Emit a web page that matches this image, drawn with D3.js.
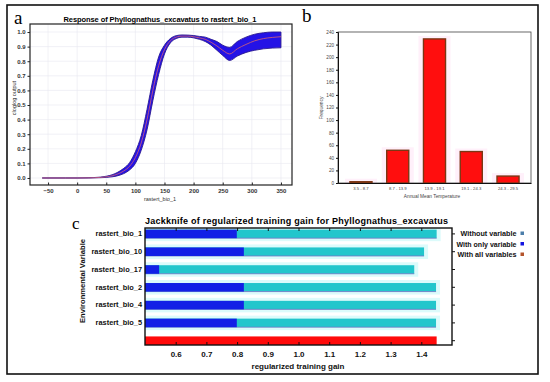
<!DOCTYPE html>
<html>
<head>
<meta charset="utf-8">
<script src="https://cdn.jsdelivr.net/npm/d3@7"></script>
<style>
  body { margin: 0; background: #fff; }
  svg { display: block; font-family: "Liberation Sans", Arial, sans-serif; }
</style>
</head>
<body>
<svg id="chart"></svg>
<script>
// panel a: response curve (mean and +/- band)
const respX    = [-60, -20, 0, 20, 40, 50, 60, 70, 80, 90, 100, 110, 120, 130, 140, 150, 160, 170, 180, 190, 200, 210, 220, 230, 240, 250, 262, 275, 290, 305, 320, 335, 350];
const respMean = [0, 0, 0, 0.001, 0.004, 0.008, 0.015, 0.028, 0.048, 0.08, 0.14, 0.24, 0.40, 0.60, 0.77, 0.88, 0.94, 0.965, 0.972, 0.972, 0.968, 0.96, 0.95, 0.93, 0.905, 0.875, 0.85, 0.885, 0.915, 0.94, 0.955, 0.963, 0.968];
const respLow  = [0, 0, 0, 0, 0.002, 0.004, 0.008, 0.016, 0.03, 0.055, 0.10, 0.19, 0.33, 0.53, 0.71, 0.85, 0.925, 0.955, 0.965, 0.965, 0.96, 0.95, 0.935, 0.91, 0.875, 0.84, 0.805, 0.835, 0.86, 0.875, 0.885, 0.89, 0.892];
const respHigh = [0, 0, 0, 0.002, 0.006, 0.012, 0.022, 0.04, 0.066, 0.105, 0.18, 0.29, 0.47, 0.67, 0.83, 0.91, 0.955, 0.975, 0.98, 0.979, 0.976, 0.97, 0.965, 0.95, 0.935, 0.91, 0.895, 0.935, 0.965, 0.985, 0.995, 1.0, 1.0];
const respXTicks = [-50, 0, 50, 100, 150, 200, 250, 300, 350];
const respYTicks = [0, 0.1, 0.2, 0.3, 0.4, 0.5, 0.6, 0.7, 0.8, 0.9, 1.0];

// panel b: histogram
const tempBins = ["3.5 - 8.7", "8.7 - 13.9", "13.9 - 19.1", "19.1 - 24.3", "24.3 - 29.5"];
const tempFreq = [2, 52, 229, 50, 11];
const freqTicks = [0, 20, 40, 60, 80, 100, 120, 140, 160, 180, 200, 220, 240];

// panel c: jackknife
const jackVars    = ["rastert_bio_1", "rastert_bio_10", "rastert_bio_17", "rastert_bio_2", "rastert_bio_4", "rastert_bio_5"];
const gainWithout = [1.45, 1.409, 1.377, 1.448, 1.448, 1.448];
const gainOnly    = [0.799, 0.822, 0.546, 0.822, 0.822, 0.799];
const gainAll     = 1.45;
const gainTicks   = [0.6, 0.7, 0.8, 0.9, 1.0, 1.1, 1.2, 1.3, 1.4];
const legendItems = ["Without variable", "With only variable", "With all variables"];
const legendColors = ["#4c7eaa", "#1414e0", "#b4542c"];

const width = 550, height = 382;
const svg = d3.select("#chart").attr("width", width).attr("height", height);

svg.append("rect").attr("x", 7).attr("y", 5).attr("width", 531).attr("height", 369)
  .attr("fill", "#fff").attr("stroke", "#111").attr("stroke-width", 1.6);

// ---------- panel a ----------
const ax = d3.scaleLinear().domain([-81, 369]).range([30, 292]);
const ay = d3.scaleLinear().domain([-0.048, 1.055]).range([185, 24]);
const ga = svg.append("g");

ga.selectAll(".gx").data(respXTicks).enter().append("line")
  .attr("x1", d => ax(d)).attr("x2", d => ax(d)).attr("y1", 24).attr("y2", 185)
  .attr("stroke", "#e8e8f0").attr("stroke-width", 0.6);
ga.selectAll(".gy").data(respYTicks).enter().append("line")
  .attr("x1", 30).attr("x2", 292).attr("y1", d => ay(d)).attr("y2", d => ay(d))
  .attr("stroke", "#e8e8f0").attr("stroke-width", 0.6);

const resp = respX.map((x, i) => ({ x, m: respMean[i], lo: respLow[i], hi: respHigh[i] }));

ga.append("path").datum(resp)
  .attr("d", d3.area().curve(d3.curveMonotoneX)
    .x(d => ax(d.x)).y0(d => ay(d.lo)).y1(d => ay(d.hi)))
  .attr("fill", "#2412e6").attr("stroke", "#2a1890").attr("stroke-width", 0.9);

ga.append("path").datum(resp)
  .attr("d", d3.line().curve(d3.curveMonotoneX).x(d => ax(d.x)).y(d => ay(d.m)))
  .attr("fill", "none").attr("stroke", "#c45a7e").attr("stroke-width", 0.9);

ga.append("rect").attr("x", 30).attr("y", 24).attr("width", 262).attr("height", 161)
  .attr("fill", "none").attr("stroke", "#222").attr("stroke-width", 1.2);

const aLeft = ga.append("g").attr("transform", "translate(30,0)")
  .call(d3.axisLeft(ay).tickValues(respYTicks).tickFormat(d3.format(".1f")).tickSize(2.5).tickPadding(2));
const aBottom = ga.append("g").attr("transform", "translate(0,185)")
  .call(d3.axisBottom(ax).tickValues(respXTicks).tickSize(-2.5).tickPadding(4));
[aLeft, aBottom].forEach(a => {
  a.select(".domain").remove();
  a.selectAll("text").attr("font-size", 6).attr("font-weight", "bold").attr("fill", "#333");
  a.selectAll("line").attr("stroke", "#222");
});

ga.append("text").attr("x", 160).attr("y", 22).attr("text-anchor", "middle")
  .attr("font-size", 7.5).attr("font-weight", "bold").attr("textLength", 193)
  .attr("lengthAdjust", "spacing")
  .text("Response of Phyllognathus_excavatus  to rastert_bio_1");
ga.append("text").attr("x", 160).attr("y", 201).attr("text-anchor", "middle")
  .attr("font-size", 5.5).attr("fill", "#333").text("rastert_bio_1");
ga.append("text").attr("transform", "translate(16,98) rotate(-90)").attr("text-anchor", "middle")
  .attr("font-size", 5.5).attr("fill", "#333").text("cloglog output");
ga.append("text").attr("x", 14).attr("y", 24).attr("font-family", "'Liberation Serif', serif")
  .attr("font-size", 19).text("a");

// ---------- panel b ----------
const bx = d3.scaleBand().domain(tempBins).range([338, 531]).paddingInner(0.4).paddingOuter(0.325);
const by = d3.scaleLinear().domain([0, 240]).range([183, 32]);
const gb = svg.append("g");

gb.selectAll(".halo").data(tempFreq).enter().append("rect")
  .attr("x", (d, i) => bx(tempBins[i]) - 5).attr("y", d => by(d) - 3)
  .attr("width", bx.bandwidth() + 10).attr("height", d => 183 - by(d) + 3)
  .attr("fill", "#fff0fa");

gb.append("rect").attr("x", 338).attr("y", 32).attr("width", 193).attr("height", 151)
  .attr("fill", "none").attr("stroke", "#444").attr("stroke-width", 0.8);

gb.selectAll(".bar").data(tempFreq).enter().append("rect")
  .attr("x", (d, i) => bx(tempBins[i])).attr("y", d => by(d))
  .attr("width", bx.bandwidth()).attr("height", d => 183 - by(d))
  .attr("fill", "#ff0e0e").attr("stroke", "#7b3614").attr("stroke-width", 1.4);

const bLeft = gb.append("g").attr("transform", "translate(338,0)")
  .call(d3.axisLeft(by).tickValues(freqTicks).tickSize(2).tickPadding(2));
const bBottom = gb.append("g").attr("transform", "translate(0,183)")
  .call(d3.axisBottom(bx).tickSize(0).tickPadding(4));
bLeft.selectAll("text").attr("font-size", 4.6).attr("fill", "#444");
bBottom.selectAll("text").attr("font-size", 4.2).attr("fill", "#444");
[bLeft, bBottom].forEach(a => a.selectAll("line, path").attr("stroke", "#111"));

gb.append("text").attr("x", 432).attr("y", 198).attr("text-anchor", "middle")
  .attr("font-size", 4.8).attr("fill", "#444").text("Annual Mean Temperature");
gb.append("text").attr("transform", "translate(323,108) rotate(-90)").attr("text-anchor", "middle")
  .attr("font-size", 4.8).attr("fill", "#444").text("Frequency");
gb.append("text").attr("x", 302).attr("y", 22).attr("font-family", "'Liberation Serif', serif")
  .attr("font-size", 19).text("b");

// ---------- panel c ----------
const cx = d3.scaleLinear().domain([0.5, 1.5]).range([145, 452]);
const rows = [...jackVars, "all"];
const cy = d3.scaleBand().domain(rows).range([225, 349.6]).paddingInner(0.52).paddingOuter(0.26);
const gc = svg.append("g");

svg.append("clipPath").attr("id", "clipc").append("rect")
  .attr("x", 145).attr("y", 228).attr("width", 307).attr("height", 117);
const plot = gc.append("g").attr("clip-path", "url(#clipc)");

plot.selectAll(".halo").data(gainWithout).enter().append("rect")
  .attr("x", 145).attr("y", (d, i) => cy(jackVars[i]) - 3)
  .attr("width", d => cx(d) - 145 + 4).attr("height", cy.bandwidth() + 6)
  .attr("fill", "#dcfbfb");

plot.selectAll(".without").data(gainWithout).enter().append("rect")
  .attr("x", 145).attr("y", (d, i) => cy(jackVars[i]))
  .attr("width", d => cx(d) - 145).attr("height", cy.bandwidth())
  .attr("fill", "#22c6cc");
plot.selectAll(".under").data(gainWithout).enter().append("line")
  .attr("x1", 145).attr("x2", d => cx(d))
  .attr("y1", (d, i) => cy(jackVars[i]) + cy.bandwidth())
  .attr("y2", (d, i) => cy(jackVars[i]) + cy.bandwidth())
  .attr("stroke", "#7474c4").attr("stroke-width", 0.8);

plot.selectAll(".only").data(gainOnly).enter().append("rect")
  .attr("x", 145).attr("y", (d, i) => cy(jackVars[i]))
  .attr("width", d => cx(d) - 145).attr("height", cy.bandwidth())
  .attr("fill", "#1220e6");

plot.append("rect").attr("x", 145).attr("y", cy("all"))
  .attr("width", cx(gainAll) - 145).attr("height", cy.bandwidth())
  .attr("fill", "#ff0a0a");

gc.append("rect").attr("x", 145).attr("y", 228).attr("width", 307).attr("height", 117)
  .attr("fill", "none").attr("stroke", "#111").attr("stroke-width", 1.4);

const cLeft = gc.append("g").attr("transform", "translate(145,0)")
  .call(d3.axisLeft(cy).tickFormat(d => d === "all" ? "" : d).tickSize(0).tickPadding(3));
const cBottom = gc.append("g").attr("transform", "translate(0,345)")
  .call(d3.axisBottom(cx).tickValues(gainTicks).tickFormat(d3.format(".1f")).tickSize(-3).tickPadding(6));
const cTop = gc.append("g").attr("transform", "translate(0,228)")
  .call(d3.axisTop(cx).tickValues(gainTicks).tickFormat("").tickSize(-3));
const cRight = gc.append("g").attr("transform", "translate(452,0)")
  .call(d3.axisRight(cy).tickFormat("").tickSize(3));
[cLeft, cBottom, cTop, cRight].forEach(a => {
  a.select(".domain").remove();
  a.selectAll("line").attr("stroke", "#111");
});
cLeft.selectAll("text").attr("font-size", 7.4).attr("font-weight", "bold").attr("fill", "#111");
cBottom.selectAll("text").attr("font-size", 8).attr("font-weight", "bold").attr("fill", "#111");

gc.append("text").attr("x", 145).attr("y", 224)
  .attr("font-size", 9).attr("font-weight", "bold").attr("textLength", 303)
  .attr("lengthAdjust", "spacing")
  .text("Jackknife of regularized training gain for Phyllognathus_excavatus");
gc.append("text").attr("x", 298).attr("y", 369).attr("text-anchor", "middle")
  .attr("font-size", 8).attr("font-weight", "bold").attr("fill", "#111")
  .text("regularized training gain");
gc.append("text").attr("transform", "translate(85,281) rotate(-90)").attr("text-anchor", "middle")
  .attr("font-size", 7.6).attr("font-weight", "bold").attr("fill", "#111")
  .text("Environmental Variable");
gc.append("text").attr("x", 72).attr("y", 229).attr("font-family", "'Liberation Serif', serif")
  .attr("font-size", 17).text("c");

const leg = gc.selectAll(".leg").data(legendItems).enter().append("g")
  .attr("transform", (d, i) => `translate(0,${233 + i * 10.5})`);
leg.append("text").attr("x", 516.5).attr("y", 3).attr("text-anchor", "end")
  .attr("font-size", 7.4).attr("font-weight", "bold").attr("fill", "#111")
  .attr("textLength", (d, i) => [56, 60, 59][i]).attr("lengthAdjust", "spacingAndGlyphs")
  .text(d => d);
leg.append("rect").attr("x", 520.5).attr("y", -1.5).attr("width", 3.5).attr("height", 3.5)
  .attr("fill", (d, i) => legendColors[i]);
</script>
</body>
</html>
